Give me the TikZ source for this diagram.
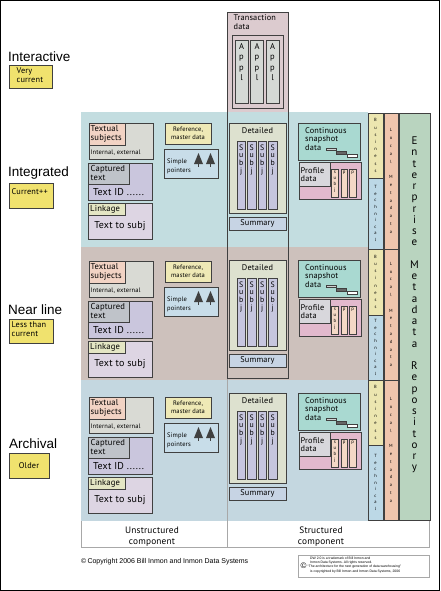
\documentclass[tikz,border=0pt]{standalone}
\usepackage{fontspec}
\setmainfont{PT Sans}[LetterSpace=2]
\newfontfamily\helv{Liberation Sans}
\usetikzlibrary{calc}

\definecolor{edge}{HTML}{404040}
\definecolor{rulegray}{HTML}{A8A8A8}
\definecolor{intband}{HTML}{C3DDE0}
\definecolor{nearband}{HTML}{CDC1BC}
\definecolor{archband}{HTML}{C4D7E0}
\definecolor{transfill}{HTML}{DCCBCF}
\definecolor{applfill}{HTML}{D5D9D5}
\definecolor{tagfill}{HTML}{F0E26E}
\definecolor{textfill}{HTML}{D9DAD4}
\definecolor{texthead}{HTML}{F2D3C4}
\definecolor{captfill}{HTML}{CAC6DD}
\definecolor{capthead}{HTML}{BFC3C9}
\definecolor{linkfill}{HTML}{DDD5E3}
\definecolor{linkhead}{HTML}{E4E6C4}
\definecolor{reffill}{HTML}{EFE9B6}
\definecolor{pointfill}{HTML}{C8DDE9}
\definecolor{detfill}{HTML}{DDE1CF}
\definecolor{subjfill}{HTML}{C6C6DE}
\definecolor{sumfill}{HTML}{C7D4E4}
\definecolor{snapfill}{HTML}{A9D9D1}
\definecolor{proffill}{HTML}{E2B9CD}
\definecolor{profhead}{HTML}{D8D7DC}
\definecolor{stripfill}{HTML}{F4D8C6}
\definecolor{busfill}{HTML}{ECE6B0}
\definecolor{techfill}{HTML}{BCD8E6}
\definecolor{localfill}{HTML}{EFC5AD}
\definecolor{entfill}{HTML}{B9D4BF}

\tikzset{
  compbox/.style={draw=edge, line width=0.9pt},
  thinbox/.style={draw=edge, line width=0.6pt},
  rule/.style={draw=rulegray, line width=0.6pt},
  wordtxt/.style={inner sep=0pt, font=\fontsize{8.3}{9.2}\selectfont},
  letters/.style={inner sep=0pt, align=center},
  rowtag/.style={inner sep=0pt, anchor=west, font=\helv\fontsize{13.5}{14}\selectfont},
}

\begin{document}
\begin{tikzpicture}[x=1pt,y=-1pt]
\useasboundingbox (0,0) rectangle (440,591);
\draw[line width=1.2pt] (0.6,0.6) rectangle (439.4,590.4);

% row bands
\fill[intband] (81,112) rectangle (368,247);
\fill[nearband] (81,247) rectangle (368,380);
\fill[archband] (81,380) rectangle (368,521);
\draw[rule] (81,521) -- (81,547) -- (429,547) -- (429,521);
\draw[rule] (227,378) -- (227,547);

% row names
\node[rowtag] (interactive) at (8,57) {Interactive};
\filldraw[compbox, fill=tagfill] (9,65) rectangle (52,88);
\node[wordtxt, anchor=north west, align=left] (verycur) at (16.5,67.5) {Very\\current};
\node[rowtag] (integrated) at (8,173) {Integrated};
\filldraw[compbox, fill=tagfill] (9,183) rectangle (53,208);
\node[wordtxt, anchor=west] (curpp) at (11.5,191.5) {Current++};
\node[rowtag] (nearline) at (8,310) {Near line};
\filldraw[compbox, fill=tagfill] (9,319) rectangle (53,343);
\node[wordtxt, anchor=north west, align=left] (lessthan) at (11.5,321.5) {Less than\\current};
\node[rowtag] (archival) at (9,444) {Archival};
\filldraw[compbox, fill=tagfill] (9,453) rectangle (49,478);
\node[wordtxt] (older) at (29,465.5) {Older};

% transaction data
\fill[transfill] (227,12) rectangle (288,112);
\draw[compbox] (227,12) rectangle (288,378);
\node[wordtxt, anchor=north west, align=left] (trans) at (233.5,14.5) {Transaction\\data};
\filldraw[compbox, fill=transfill] (232,35) rectangle (283,108);
\foreach \i/\x in {1/235, 2/250.5, 3/266}{
    \filldraw[compbox, fill=applfill] (\x,40) rectangle (\x+13,103);
    \node[letters, anchor=north, font=\fontsize{8.5}{10.5}\selectfont] (appl\i) at (\x+6.5,43) {A\\p\\p\\l};
}

% unstructured side
\foreach \r/\y in {1/123, 2/261, 3/397}{
    \filldraw[compbox, fill=textfill] (89,\y) rectangle (153,\y+36);
    \filldraw[compbox, fill=texthead] (89,\y) rectangle (125,\y+22);
    \node[wordtxt, anchor=north west, align=left, font=\fontsize{8.6}{9.5}\selectfont] (textual\r) at (90.5,\y+2) {Textual\\subjects};
    \node[wordtxt, anchor=west, font=\fontsize{6.5}{7}\selectfont] (intext\r) at (90.5,\y+29.5) {Internal, external};
    \filldraw[compbox, fill=captfill] (88,\y+40) rectangle (152,\y+77);
    \filldraw[compbox, fill=capthead] (88,\y+40) rectangle (129,\y+61);
    \node[wordtxt, anchor=north west, align=left, font=\fontsize{8.6}{9}\selectfont] (captured\r) at (90.5,\y+42) {Captured\\text};
    \node[wordtxt, anchor=west, font=\fontsize{10}{10}\selectfont] (textid\r) at (93,\y+69) {Text ID ......};
    \filldraw[compbox, fill=linkfill] (88,\y+80) rectangle (152,\y+116);
    \filldraw[compbox, fill=linkhead] (88,\y+80) rectangle (125,\y+92);
    \node[wordtxt, anchor=west, font=\fontsize{8.6}{9}\selectfont] (linkage\r) at (90,\y+86) {Linkage};
    \node[wordtxt, font=\fontsize{10}{10}\selectfont] (tosubj\r) at (120,\y+103) {Text to subj};
    \filldraw[compbox, fill=reffill] (165,\y) rectangle (211,\y+21);
    \node[wordtxt, align=center, font=\fontsize{6.5}{7.8}\selectfont] (ref\r) at (188,\y+10.5) {Reference,\\master data};
    \filldraw[compbox, fill=pointfill] (164,\y+26) rectangle (218,\y+55);
    \node[wordtxt, anchor=west, align=left, font=\fontsize{6.5}{8.5}\selectfont] (simple\r) at (167,\y+43.5) {Simple\\pointers};
    \foreach \t in {198.5,210.5}{
        \fill[edge] (\t-4.5,\y+41) -- (\t,\y+30) -- (\t+4.5,\y+41) -- cycle;
        \fill[edge] (\t-0.9,\y+39) rectangle (\t+0.9,\y+44);
    }
}

% structured side
\foreach \r/\y in {1/123, 2/260, 3/393}{
    \filldraw[compbox, fill=detfill] (229,\y) rectangle (286,\y+90);
    \node[wordtxt] (detailed\r) at (257.5,\y+8) {Detailed};
    \foreach \j/\x in {1/237, 2/247.5, 3/258, 4/268.5}{
        \filldraw[compbox, fill=subjfill] (\x,\y+18) rectangle (\x+8.5,\y+86);
        \node[letters, anchor=north, font=\fontsize{7.8}{7.6}\selectfont] (subj\r\j) at (\x+4.25,\y+21.5) {S\\u\\b\\j};
    }
    \filldraw[compbox, fill=sumfill] (229,\y+94) rectangle (286,\y+107);
    \node[wordtxt] (summary\r) at (257.5,\y+100.5) {Summary};
    \filldraw[compbox, fill=snapfill] (298,\y) rectangle (360,\y+37);
    \node[wordtxt, anchor=north west, align=left, font=\fontsize{8.3}{8.8}\selectfont] (snap\r) at (305,\y+4) {Continuous\\snapshot\\data};
    \filldraw[thinbox, fill=gray!35] (326,\y+25.3) rectangle (336,\y+27.7);
    \filldraw[thinbox, fill=black!60] (336.3,\y+28.7) rectangle (346.7,\y+31.3);
    \filldraw[thinbox, fill=white] (347.3,\y+31.7) rectangle (357.7,\y+34.3);
    \filldraw[compbox, fill=proffill] (299,\y+39) rectangle (361,\y+76);
    \filldraw[compbox, fill=profhead] (299,\y+39) rectangle (330,\y+63);
    \node[wordtxt, anchor=north west, align=left, font=\fontsize{8.3}{8.8}\selectfont] (profile\r) at (300.5,\y+44) {Profile\\data};
    \foreach \j/\x in {1/331.5, 2/340.8, 3/349.4}
        \filldraw[thinbox, fill=stripfill] (\x,\y+46) rectangle (\x+6.6,\y+74);
    \node[letters, anchor=north, font=\fontsize{4.8}{6}\selectfont] (psubj\r) at (334.8,\y+48) {s\\u\\b\\j};
    \node[letters, anchor=north, font=\fontsize{4.8}{6}\selectfont] (pa\r) at (344.1,\y+48) {p};
    \node[letters, anchor=north, font=\fontsize{4.8}{6}\selectfont] (pb\r) at (352.7,\y+48) {p};
}

% metadata columns
\foreach \r/\top/\mid/\bot in {1/113/178/249, 2/249/315/380, 3/380/445/520}{
    \filldraw[compbox, fill=busfill] (368,\top) rectangle (383,\mid);
    \filldraw[compbox, fill=techfill] (368,\mid) rectangle (383,\bot);
    \filldraw[compbox, fill=localfill] (384,\top) rectangle (398,\bot);
    \node[letters, font=\fontsize{4.5}{7.2}\selectfont] (bus\r) at (375.5,{(\top+\mid)/2}) {B\\u\\s\\i\\n\\e\\s\\s};
    \node[letters, font=\fontsize{4.5}{6.6}\selectfont] (tech\r) at (375.5,{(\mid+\bot)/2}) {T\\e\\c\\h\\n\\i\\c\\a\\l};
    \node[letters, font=\fontsize{4.5}{7.8}\selectfont] (local\r) at (391,{(\top+\bot)/2}) {L\\o\\c\\a\\l\\[7.8pt]M\\e\\t\\a\\d\\a\\t\\a};
}
\filldraw[compbox, fill=entfill] (399,113) rectangle (430,520);
\node[letters, font=\fontsize{11}{11.25}\selectfont] (enterprise) at (414.5,305) {E\\n\\t\\e\\r\\p\\r\\i\\s\\e\\[11.25pt]M\\e\\t\\a\\d\\a\\t\\a\\[11.25pt]R\\e\\p\\o\\s\\i\\t\\o\\r\\y};

% captions
\node[wordtxt, align=center, font=\fontsize{9.3}{11.5}\selectfont] (unstruct) at (152,536.5) {Unstructured\\component};
\node[wordtxt, align=center, font=\fontsize{9.3}{11.5}\selectfont] (struct) at (321,536.5) {Structured\\component};
\node[inner sep=0pt, anchor=west, font=\helv\fontsize{7}{8}\selectfont] (copyright) at (81,562) {\textcopyright\,Copyright 2006 Bill Inmon and Inmon Data Systems};
\draw[rule] (298,555) rectangle (429,577);
\node[inner sep=0pt, font=\helv\fontsize{8}{8}\selectfont] (cmark) at (303.5,566) {\textcopyright};
\node[inner sep=0pt, anchor=north west, align=left, font=\helv\fontsize{3.4}{4.3}\selectfont] (notice) at (310,556.5) {DW 2.0 is a trademark of Bill Inmon and\\Inmon Data Systems. All rights reserved.\\\hspace*{-2.5pt}“The architecture for the next generation of data warehousing”\\is copyrighted by Bill Inmon and Inmon Data Systems, 2006};
\end{tikzpicture}
\end{document}
